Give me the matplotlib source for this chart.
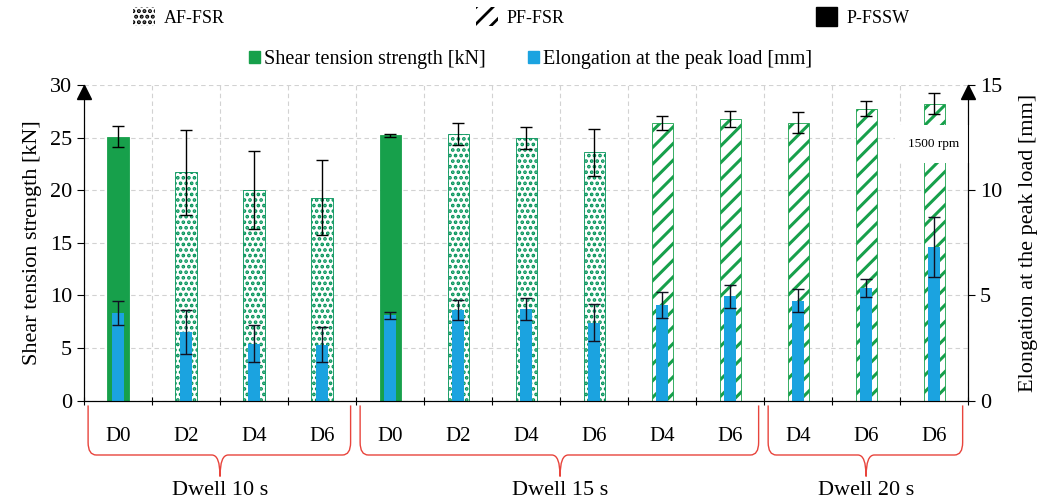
import matplotlib
matplotlib.use('Agg')
import matplotlib.pyplot as plt
import numpy as np
from matplotlib.patches import Patch, PathPatch
from matplotlib.path import Path

## data
cats = ['D0', 'D2', 'D4', 'D6', 'D0', 'D2', 'D4', 'D6', 'D4', 'D6', 'D4', 'D6', 'D6']
process = ['P', 'AF', 'AF', 'AF', 'P', 'AF', 'AF', 'AF', 'PF', 'PF', 'PF', 'PF', 'PF']
shear = [25.1, 21.7, 20.0, 19.3, 25.2, 25.3, 25.0, 23.6, 26.4, 26.8, 26.4, 27.75, 28.2]
shear_err = [1.0, 4.05, 3.7, 3.6, 0.15, 1.05, 1.05, 2.25, 0.65, 0.75, 1.0, 0.7, 1.0]
elong = [4.15, 3.25, 2.7, 2.65, 4.05, 4.3, 4.35, 3.7, 4.55, 4.95, 4.75, 5.35, 7.3]
elong_err = [0.57, 1.05, 0.88, 0.83, 0.15, 0.48, 0.52, 0.87, 0.63, 0.53, 0.56, 0.43, 1.44]
group_labels = ['Dwell 10 s', 'Dwell 15 s', 'Dwell 20 s']
group_sizes = [4, 6, 3]

plt.rcParams['font.family'] = ['Liberation Serif', 'DejaVu Serif']

green = '#17a04b'
dotgreen = '#009257'
blue = '#1ba3e0'
red = '#e8443c'
hatches = {'P': None, 'AF': '...', 'PF': '//'}
hatch_lw = {'P': 1.0, 'AF': 1.8, 'PF': 2.2}


def set_hlw(patch, lw):
  ## hatch linewidth per patch (falls back to rcParams)
  if hasattr(patch, 'set_hatch_linewidth'):
    patch.set_hatch_linewidth(lw)


fig = plt.figure(figsize=(10.45, 4.98), dpi=100)
ax = fig.add_axes([0.0804, 0.1954, 0.846, 0.634])
x = np.arange(len(cats))

## shear bars
for i in x:
  p = process[i]
  plt.rcParams['hatch.linewidth'] = hatch_lw[p]
  fc = green if p == 'P' else 'white'
  ec = dotgreen if p == 'AF' else green
  b = ax.bar(i, shear[i], 0.31, color=fc, edgecolor=ec, hatch=hatches[p], linewidth=0.6, zorder=2)
  set_hlw(b[0], hatch_lw[p])
ax.errorbar(x, shear, yerr=shear_err, fmt='none', ecolor='black', capsize=4, elinewidth=1, capthick=1, zorder=3)
ax.text(12, 24.4, '1500 rpm', ha='center', va='center', fontsize=9.5, zorder=6,
        bbox=dict(facecolor='white', edgecolor='none', boxstyle='square,pad=1.0'))

ax.set_xlim(-0.5, 12.5)
ax.set_ylim(0, 30)
ax.set_yticks(np.arange(0, 31, 5))
ax.set_xticks(np.arange(-0.5, 13, 1))
ax.grid(True, ls=(0, (4, 3)), color='#d2d2d2', lw=0.8)
ax.set_axisbelow(True)
ax.tick_params(axis='x', direction='inout', length=6, labelbottom=False)
ax.tick_params(axis='y', direction='out', length=5, labelsize=16)
ax.spines['top'].set_visible(False)
ax.set_ylabel('Shear tension strength [kN]', fontsize=16, labelpad=6)

## elongation bars
ax2 = ax.twinx()
ax2.bar(x, elong, 0.17, color=blue, zorder=2)
ax2.errorbar(x, elong, yerr=elong_err, fmt='none', ecolor='#111122', capsize=4, elinewidth=1, capthick=1, zorder=3)
ax2.set_ylim(0, 15)
ax2.set_yticks([0, 5, 10, 15])
ax2.tick_params(axis='y', direction='out', length=5, labelsize=16)
ax2.spines['top'].set_visible(False)
ax2.set_ylabel('Elongation at the peak load [mm]', fontsize=16, labelpad=12)

## arrows on the y axes
ax.plot([0], [0.978], marker='^', color='k', markersize=10, transform=ax.transAxes, clip_on=False)
ax.plot([1], [0.978], marker='^', color='k', markersize=10, transform=ax.transAxes, clip_on=False)

## category labels and braces
trans = ax.get_xaxis_transform()
for i in x:
  ax.text(i, -0.112, cats[i], transform=trans, ha='center', va='center', fontsize=15)

start = 0
for lab, n in zip(group_labels, group_sizes):
  x0 = start - 0.44
  x1 = start + n - 1 + 0.42
  xc = start + (n - 1) / 2.0
  yt, yh, yp = -0.015, -0.172, -0.24
  verts = [(x0, yt), (x0, yh + 0.04), (x0, yh), (x0 + 0.12, yh), (xc - 0.12, yh), (xc, yh), (xc, yp),
           (xc, yh), (xc + 0.12, yh), (x1 - 0.12, yh), (x1, yh), (x1, yh + 0.04), (x1, yt)]
  codes = [Path.MOVETO, Path.LINETO, Path.CURVE3, Path.CURVE3, Path.LINETO, Path.CURVE3, Path.CURVE3,
           Path.CURVE3, Path.CURVE3, Path.LINETO, Path.CURVE3, Path.CURVE3, Path.LINETO]
  ax.add_patch(PathPatch(Path(verts, codes), transform=trans, fill=False, edgecolor=red, lw=1, clip_on=False))
  ax.text(xc, -0.284, lab, transform=trans, ha='center', va='center', fontsize=16)
  start += n

## legends
plt.rcParams['hatch.linewidth'] = 2.0
h1 = [Patch(facecolor='white', edgecolor='black', hatch='...', lw=0, label='AF-FSR'),
      Patch(facecolor='white', edgecolor='black', hatch='//', lw=0, label='PF-FSR'),
      Patch(facecolor='black', edgecolor='black', label='P-FSSW')]
leg1 = fig.legend(handles=h1, loc='center', bbox_to_anchor=(0.499, 0.966), ncol=3, frameon=False,
                  fontsize=13, handlelength=1.2, handleheight=1.2, handletextpad=0.5, columnspacing=13.9)
h2 = [Patch(facecolor=green, edgecolor=green, label='Shear tension strength [kN]'),
      Patch(facecolor=blue, edgecolor=blue, label='Elongation at the peak load [mm]')]
leg2 = fig.legend(handles=h2, loc='center', bbox_to_anchor=(0.508, 0.88), ncol=2, frameon=False,
                  fontsize=14.5, handlelength=0.55, handleheight=0.55, handletextpad=0.2, columnspacing=2.1)

fig.savefig('out.png', dpi=100)
